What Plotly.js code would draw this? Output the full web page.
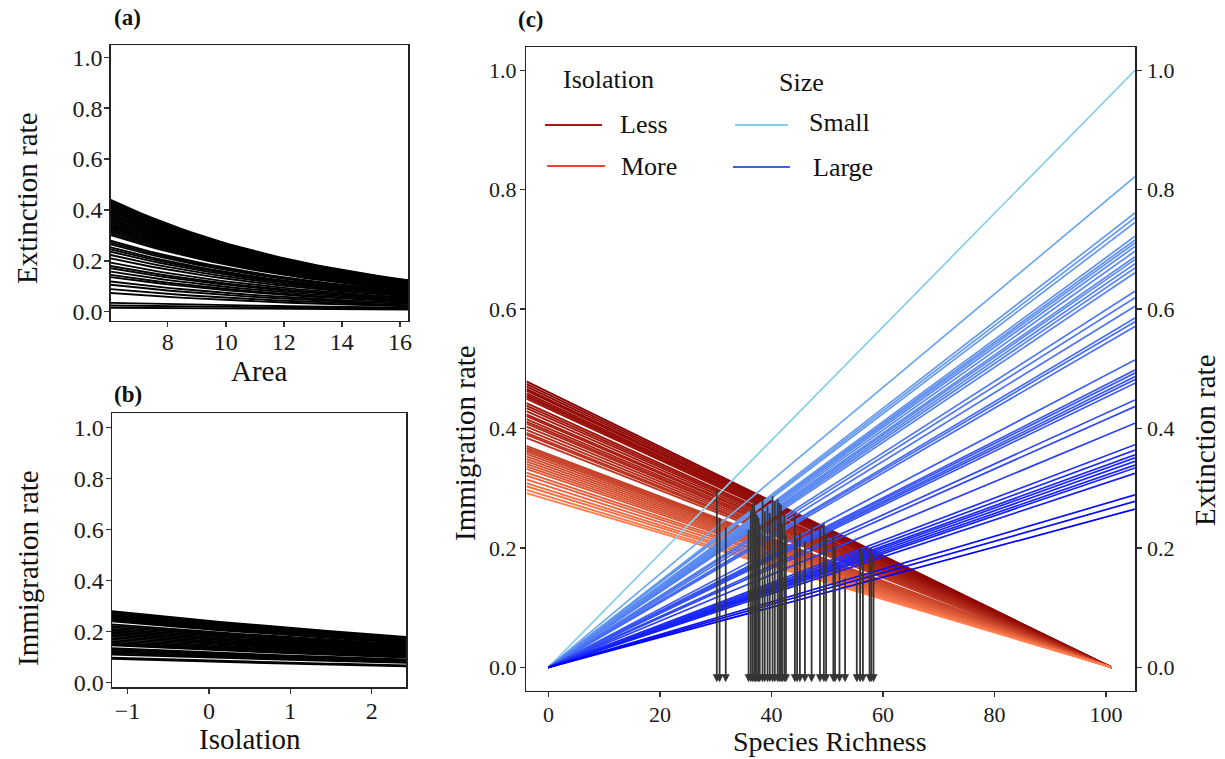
<!DOCTYPE html>
<html><head><meta charset="utf-8">
<script src="https://cdn.plot.ly/plotly-3.0.1.min.js"></script>
<style>html,body{margin:0;padding:0;background:#fff}#chart{width:1225px;height:759px}</style>
</head><body><div id="chart"></div>
<script>
// ---------- Panel (a): extinction rate vs area (model curves) ----------
const areaRange = [6.03, 16.28];
const areaTicks = [8, 10, 12, 14, 16];
const extAtMinArea = [0.440,0.434,0.428,0.423,0.417,0.411,0.405,0.399,0.393,0.387,0.381,0.375,0.369,0.363,0.357,0.351,0.345,0.339,0.333,0.327,0.321,0.315,0.308,0.301,
  0.279,0.272,0.265,0.253,0.245,0.236,0.223,0.210,0.193,0.180,0.171,0.158,0.145,0.136,0.119,0.106,0.089,0.074,0.035,0.025,0.016];
const extAtMaxArea = [0.124,0.122,0.121,0.119,0.118,0.116,0.114,0.113,0.111,0.109,0.108,0.106,0.104,0.103,0.101,0.099,0.098,0.096,0.094,0.093,0.091,0.089,0.087,0.086,
  0.081,0.079,0.077,0.073,0.071,0.068,0.065,0.061,0.056,0.052,0.050,0.046,0.042,0.040,0.035,0.031,0.026,0.022,0.016,0.012,0.009];

// ---------- Panel (b): immigration rate vs isolation (model curves) ----------
const isoRange = [-1.19, 2.42];
const isoTicks = [-1, 0, 1, 2];
const immAtMinIso = [0.280,0.275,0.270,0.265,0.260,0.255,0.250,0.245,0.240,
  0.228,0.222,0.216,0.210,0.204,0.198,0.192,0.186,0.180,0.174,0.168,0.162,0.156,0.150,0.146,
  0.134,0.129,0.124,0.119,0.114,0.109,0.097,0.093];
const immAtMaxIso = [0.179,0.176,0.173,0.170,0.167,0.164,0.161,0.158,0.156,
  0.151,0.147,0.144,0.140,0.136,0.132,0.128,0.124,0.120,0.116,0.112,0.108,0.104,0.101,0.098,
  0.090,0.087,0.085,0.082,0.080,0.077,0.067,0.063];

// ---------- Panel (c): MacArthur-Wilson lines ----------
const richnessRange = [-3.95, 105.2];
const richnessTicks = [0, 20, 40, 60, 80, 100];
const poolSize = 101;
const immIntercept = [0.461,0.457,0.453,0.449,0.446,0.442,0.439,0.436,0.433,0.426,0.422,0.418,0.413,0.408,0.405,0.400,0.396,0.393,0.388,0.383,0.378,0.375,0.370,0.357,0.354,0.351,0.348,0.344,0.340,0.336,0.332,0.328,0.324,0.320,0.314,0.309,0.303,0.297,0.292,0.286,0.281];
const extAtRightEdge = [1.000,0.822,0.761,0.753,0.745,0.722,0.716,0.711,0.705,0.697,0.688,0.683,0.676,0.669,0.661,0.630,0.619,0.605,0.585,0.579,0.571,0.515,0.498,0.493,0.487,0.482,0.476,0.448,0.437,0.409,0.373,0.364,0.356,0.351,0.345,0.339,0.334,0.325,0.289,0.278,0.265];
const eqRichness = [30.2,30.7,31.8,35.9,36.3,36.6,36.9,37.1,37.4,37.7,37.9,38.4,38.8,39.3,39.7,40.2,40.6,41.1,41.4,41.7,41.9,42.3,42.6,44.2,44.6,45.1,46.0,47.2,48.7,49.4,49.8,51.1,51.4,52.2,53.2,55.3,55.9,56.4,57.6,57.9,58.3];
const eqRate = [0.299,0.253,0.237,0.233,0.267,0.275,0.281,0.264,0.258,0.253,0.242,0.286,0.264,0.272,0.261,0.289,0.281,0.284,0.278,0.275,0.244,0.258,0.225,0.258,0.219,0.228,0.214,0.242,0.239,0.244,0.225,0.230,0.205,0.169,0.152,0.147,0.202,0.197,0.197,0.202,0.191];
const arrowBase = -0.025;
const rateTicks = [0, 0.2, 0.4, 0.6, 0.8, 1.0];

// ---------- helpers ----------
const W = 1225, H = 759;
const px = v => v / W, py = v => 1 - v / H;
const FONT = 'Liberation Serif';
function expCurve(x0, x1, y0, y1, n) {
  const xs = [], ys = [];
  for (let k = 0; k <= n; k++) {
    const f = k / n;
    xs.push(x0 + (x1 - x0) * f);
    ys.push(y0 * Math.pow(y1 / y0, f));
  }
  return {xs, ys};
}
function mix(c1, c2, t) {
  return 'rgb(' + c1.map((v, i) => Math.round(v + (c2[i] - v) * t)).join(',') + ')';
}
const LESS = [139, 0, 0], MORE = [255, 127, 80];
const SMALL = [135, 206, 235], LARGE = [0, 0, 255];

const traces = [];
extAtMinArea.forEach((y0, i) => {
  const c = expCurve(areaRange[0], areaRange[1], y0, extAtMaxArea[i], 30);
  traces.push({x: c.xs, y: c.ys, xaxis: 'x', yaxis: 'y', mode: 'lines', line: {color: '#000', width: 1.9}, showlegend: false, hoverinfo: 'skip'});
});
immAtMinIso.forEach((y0, i) => {
  const c = expCurve(isoRange[0], isoRange[1], y0, immAtMaxIso[i], 30);
  traces.push({x: c.xs, y: c.ys, xaxis: 'x2', yaxis: 'y2', mode: 'lines', line: {color: '#000', width: 1.9}, showlegend: false, hoverinfo: 'skip'});
});
const iMin = Math.min(...immIntercept), iMax = Math.max(...immIntercept);
immIntercept.forEach(I0 => {
  const t = (I0 - iMin) / (iMax - iMin);
  const xl = richnessRange[0];
  traces.push({x: [xl, poolSize], y: [I0 * (1 - xl / poolSize), 0], xaxis: 'x3', yaxis: 'y3', mode: 'lines',
    line: {color: mix(MORE, LESS, Math.pow(t, 0.8)), width: 1.9}, showlegend: false, hoverinfo: 'skip'});
});
const eMin = Math.min(...extAtRightEdge), eMax = Math.max(...extAtRightEdge);
extAtRightEdge.forEach(E => {
  const t = (E - eMin) / (eMax - eMin);
  traces.push({x: [0, richnessRange[1]], y: [0, E], xaxis: 'x3', yaxis: 'y4', mode: 'lines',
    line: {color: mix(LARGE, SMALL, Math.pow(t, 0.75)), width: 1.7}, showlegend: false, hoverinfo: 'skip'});
});

function axis(extra) {
  return Object.assign({
    showgrid: false, zeroline: false, showline: true, linecolor: '#222', linewidth: 1.5,
    ticks: 'outside', ticklen: 5, tickwidth: 1.3, tickcolor: '#333',
    tickfont: {family: FONT, size: 24, color: '#1a1a1a'}, fixedrange: true
  }, extra);
}

const ann = [];
function txt(text, x, y, size, opts) {
  ann.push(Object.assign({text, x: px(x), y: py(y), xref: 'paper', yref: 'paper', showarrow: false,
    font: {family: FONT, size, color: '#111'}, xanchor: 'center', yanchor: 'middle'}, opts || {}));
}
txt('<b>(a)</b>', 112, 17, 23, {xanchor: 'left'});
txt('<b>(b)</b>', 112, 394, 23, {xanchor: 'left'});
txt('<b>(c)</b>', 516, 20, 23, {xanchor: 'left'});
txt('Extinction rate', 27, 198, 29, {textangle: -90});
txt('Area', 259, 371, 29);
txt('Immigration rate', 28, 568, 29, {textangle: -90});
txt('Isolation', 250, 739, 29);
txt('Immigration rate', 465, 443, 29, {textangle: -90});
txt('Extinction rate', 1205, 440, 29, {textangle: -90});
txt('Species Richness', 830, 741, 28);
// legend text
txt('Isolation', 561, 80, 26, {xanchor: 'left'});
txt('Size', 777, 82, 26, {xanchor: 'left'});
txt('Less', 618, 124, 26, {xanchor: 'left'});
txt('More', 619, 166, 26, {xanchor: 'left'});
txt('Small', 807, 123, 26, {xanchor: 'left'});
txt('Large', 811, 167, 26, {xanchor: 'left'});

eqRichness.forEach((s, i) => {
  ann.push({x: s, y: arrowBase, ax: s, ay: eqRate[i], xref: 'x3', yref: 'y3', axref: 'x3', ayref: 'y3',
    text: '', showarrow: true, arrowhead: 2, arrowsize: 0.9, arrowwidth: 1.8, arrowcolor: '#353535'});
});

const shapes = [
  {type: 'line', xref: 'paper', yref: 'paper', x0: px(545), x1: px(602), y0: py(125), y1: py(125), line: {color: 'rgb(178,20,20)', width: 1.8}},
  {type: 'line', xref: 'paper', yref: 'paper', x0: px(547), x1: px(605), y0: py(166), y1: py(166), line: {color: 'rgb(232,70,45)', width: 1.8}},
  {type: 'line', xref: 'paper', yref: 'paper', x0: px(735), x1: px(788), y0: py(125), y1: py(125), line: {color: 'rgb(135,206,235)', width: 1.8}},
  {type: 'line', xref: 'paper', yref: 'paper', x0: px(733), x1: px(790), y0: py(167), y1: py(167), line: {color: 'rgb(60,95,240)', width: 1.8}}
];

const cTick = {family: FONT, size: 22, color: '#1a1a1a'};
const layout = {
  width: W, height: H, margin: {l: 0, r: 0, t: 0, b: 0}, autosize: false,
  paper_bgcolor: '#fff', plot_bgcolor: '#fff', showlegend: false,
  font: {family: FONT},
  xaxis: axis({domain: [px(110.7), px(408)], range: areaRange, tickvals: areaTicks, mirror: true, anchor: 'y', ticklabelstandoff: -6}),
  yaxis: axis({domain: [py(320.7), py(45)], range: [-0.035, 1.048], tickvals: rateTicks, tickformat: '.1f', mirror: true, anchor: 'x', ticklabelstandoff: -3}),
  xaxis2: axis({domain: [px(112), px(406)], range: isoRange, tickvals: isoTicks, mirror: true, anchor: 'y2', ticklabelstandoff: -3}),
  yaxis2: axis({domain: [py(687), py(413)], range: [-0.018, 1.058], tickvals: rateTicks, tickformat: '.1f', mirror: true, anchor: 'x2', ticklabelstandoff: -3}),
  xaxis3: axis({domain: [px(526.4), px(1135)], range: richnessRange, tickvals: richnessTicks, mirror: true, anchor: 'y3', tickfont: cTick, ticklabelstandoff: -2}),
  yaxis3: axis({domain: [py(690.7), py(47)], range: [-0.039, 1.039], tickvals: rateTicks, tickformat: '.1f', anchor: 'x3', tickfont: cTick, ticklabelstandoff: -1}),
  yaxis4: axis({overlaying: 'y3', side: 'right', range: [-0.039, 1.039], tickvals: rateTicks, tickformat: '.1f', anchor: 'x3', tickfont: cTick, ticklabelstandoff: 1}),
  annotations: ann, shapes: shapes
};
Plotly.newPlot('chart', traces, layout, {staticPlot: true, displayModeBar: false});
</script></body></html>
